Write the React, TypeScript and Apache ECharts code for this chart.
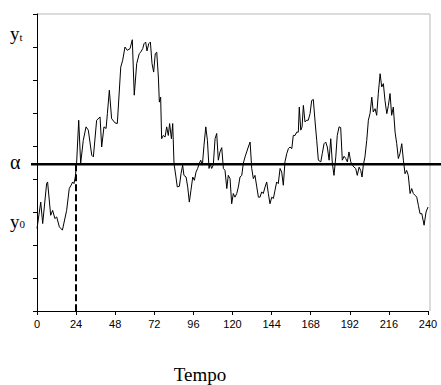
import React, { useEffect, useRef } from "react";
import * as echarts from "echarts";

// Time values (x) and process values (y)
const times = [
  0, 2.3, 3.5, 5.9, 6.5, 8.4, 9.6, 11, 12.1, 13.7, 15.6, 18.2, 19.8, 20.9, 21.9, 22.7, 23.5, 24.3, 25.6, 26.8,
  28.4, 30.1, 31.5, 33.6, 34.6, 36.6, 38.7, 39.7, 41.1, 42.4, 43.2, 44.4, 45.8, 47.9, 49.3, 51.4, 52.6, 54, 55.4, 57.1,
  58.5, 59.7, 61.2, 62.8, 63.7, 64.9, 65.7, 66.7, 67.5, 68.6, 69.6, 70.6, 71.6, 72.6, 73.5, 74.5, 75.1, 75.9, 76.5, 77.5,
  78.6, 79.6, 80.6, 81.4, 82.5, 83.3, 84.1, 85.3, 86.1, 87.4, 88.4, 89.4, 90.2, 91.5, 92.5, 93.5, 94.5, 95.6, 96.6, 97.6,
  98.6, 99.6, 100.5, 101.5, 102.5, 103.6, 104.6, 105.6, 106.2, 107.2, 108.2, 109.3, 110.3, 111.3, 112.3, 113.4, 114.4, 115.4,
  116.5, 117.4, 118.5, 119.5, 120.5, 121.5, 122.6, 123.6, 124.6, 125.7, 126.6, 127.7, 128.7, 129.7, 130.8, 131.8, 132.8, 133.8,
  134.9, 135.9, 136.9, 137.9, 138.9, 140, 141, 142, 143, 144.1, 145.1, 146.1, 147.1, 148.1, 149.2, 150.2, 151.2, 152.2, 153.3,
  154.3, 155.3, 156.4, 157.3, 158.4, 159.4, 160.4, 161, 161.9, 162.7, 163.5, 164.5, 165.6, 166.5, 167.6, 168.6, 169.6, 170.7,
  171.7, 172.7, 174.2, 175.1, 176.2, 177.2, 178.2, 179.3, 180.3, 181.3, 182.3, 183.4, 184.3, 185.4, 186.4, 187.4, 188.5, 189.5,
  190.5, 191.5, 192.6, 193.6, 194.6, 195.6, 196.6, 197.7, 198.7, 199.5, 200.3, 201.3, 202.4, 203.4, 204.4, 205.5, 206.4, 207.5,
  208.5, 209.5, 210.6, 211.6, 212.6, 213.6, 214.7, 215.7, 216.7, 217.7, 218.7, 219.8, 220.8, 221.8, 222.8, 223.9, 224.9, 225.9,
  226.9, 227.9, 229, 230, 231, 232, 233.1, 234.1, 235.1, 236.2, 237.6, 238.8, 240,
];

const values = [
  2.5, 3.3, 2.65, 3.86, 3.91, 2.9, 3.05, 2.8, 2.85, 2.55, 2.45, 3.05, 3.71, 3.81, 3.91, 3.86, 4.06, 4.47, 5.78, 4.47,
  5.17, 5.58, 5.48, 4.72, 4.67, 5.78, 5.88, 4.97, 5.58, 5.53, 5.98, 6.69, 5.83, 5.7, 5.68, 7.39, 7.6, 8.0, 7.9, 7.95,
  8.22, 6.54, 7.5, 7.8, 7.85, 7.95, 8.1, 8.15, 7.88, 8.1, 8.15, 7.5, 7.24, 7.8, 7.84, 7.09, 6.33, 6.48, 5.22, 5.32,
  5.27, 5.58, 5.32, 5.68, 5.22, 5.68, 4.47, 4.06, 3.76, 3.78, 4.16, 4.42, 4.11, 4.06, 3.76, 3.3, 3.66, 4.06, 3.96, 4.21,
  4.32, 4.47, 4.57, 4.42, 5.02, 5.58, 5.17, 4.32, 4.47, 4.32, 4.42, 5.22, 5.38, 4.57, 4.82, 4.95, 4.32, 4.26,
  3.71, 4.11, 4.01, 3.25, 3.56, 3.45, 3.56, 3.76, 4.06, 4.11, 4.47, 4.67, 4.82, 4.97, 5.12, 4.32, 4.01, 4.11,
  3.76, 3.45, 3.45, 3.61, 3.56, 3.76, 3.91, 3.56, 3.25, 3.45, 3.41, 3.66, 3.91, 3.86, 4.32, 4.21, 3.81, 4.52, 4.77,
  4.92, 4.97, 4.92, 5.32, 5.32, 5.42, 5.42, 6.18, 5.48, 5.58, 6.23, 5.73, 5.78, 5.78, 5.98, 6.38, 6.41, 5.73,
  5.17, 4.57, 4.52, 4.77, 5.07, 5.12, 4.97, 4.57, 5.22, 4.47, 4.11, 4.67, 5.32, 5.58, 5.56, 4.57, 4.69, 4.62,
  4.52, 4.82, 4.52, 4.42, 4.36, 4.32, 4.11, 4.36, 4.26, 4.06, 4.42, 4.67, 5.17, 5.78, 5.98, 6.48, 6.03, 6.13,
  5.93, 6.59, 7.19, 6.79, 6.89, 6.38, 5.98, 6.23, 6.59, 5.93, 6.18, 5.42, 5.07, 4.62, 4.77, 5.07, 4.57, 4.16,
  4.26, 4.11, 3.56, 3.71, 3.56, 3.51, 3.45, 3.2, 2.95, 2.95, 2.6, 3.0, 3.15,
];

const xTicks = [0, 24, 48, 72, 96, 120, 144, 168, 192, 216, 240];
const ALPHA = 4.45; // level of the alpha line
const CROSS_TIME = 24; // time of first crossing (dashed line)
const YT_LEVEL = 8.4;
const Y0_LEVEL = 2.72;
const Y_MIN = 0;
const Y_MAX = 9;

const SERIF = "'Liberation Serif', 'DejaVu Serif', serif";
const SANS = "'Liberation Sans', Arial, sans-serif";

export default function App() {
  const ref = useRef<HTMLDivElement>(null);

  useEffect(() => {
    document.body.style.margin = "0";
    if (!ref.current) return;
    const chart = echarts.init(ref.current, null, { renderer: "svg" });
    const data = times.map((t, i) => [t, values[i]]);

    chart.setOption({
      animation: false,
      grid: { left: 37, right: 13, top: 14, bottom: 74 },
      xAxis: {
        type: "value",
        min: xTicks[0],
        max: xTicks[xTicks.length - 1],
        interval: 24,
        axisLine: { show: true, lineStyle: { color: "#000", width: 1 } },
        axisTick: { show: true, length: 4, lineStyle: { color: "#000" } },
        axisLabel: {
          show: true,
          color: "#000",
          fontFamily: SANS,
          fontSize: 11,
          margin: 7,
          showMinLabel: true,
          showMaxLabel: true,
        },
        splitLine: { show: false },
      },
      yAxis: {
        type: "value",
        min: Y_MIN,
        max: Y_MAX,
        interval: 1,
        axisLine: { show: true, lineStyle: { color: "#000", width: 1 } },
        axisTick: { show: true, length: 4, lineStyle: { color: "#000" } },
        axisLabel: { show: false },
        splitLine: { show: false },
      },
      series: [
        {
          type: "line",
          data,
          showSymbol: false,
          symbol: "none",
          silent: true,
          lineStyle: { color: "#000", width: 1 },
          markLine: {
            silent: true,
            symbol: "none",
            label: { show: false },
            lineStyle: { color: "#000", width: 2, type: [7, 3] },
            data: [[{ coord: [CROSS_TIME, ALPHA] }, { coord: [CROSS_TIME, Y_MIN] }]],
          },
        },
      ],
    });

    const p0 = chart.convertToPixel({ gridIndex: 0 }, [xTicks[0], Y_MAX]) as number[];
    const p1 = chart.convertToPixel({ gridIndex: 0 }, [xTicks[xTicks.length - 1], Y_MIN]) as number[];
    const yA = (chart.convertToPixel({ gridIndex: 0 }, [0, ALPHA]) as number[])[1];
    const yT = (chart.convertToPixel({ gridIndex: 0 }, [0, YT_LEVEL]) as number[])[1];
    const y0 = (chart.convertToPixel({ gridIndex: 0 }, [0, Y0_LEVEL]) as number[])[1];
    const rightX = p1[0] + 2;

    chart.setOption({
      graphic: [
        {
          type: "line",
          silent: true,
          shape: { x1: p0[0], y1: p0[1], x2: rightX, y2: p0[1] },
          style: { stroke: "#b8b8b8", lineWidth: 1 },
        },
        {
          type: "line",
          silent: true,
          shape: { x1: rightX, y1: p0[1], x2: rightX, y2: p1[1] },
          style: { stroke: "#b8b8b8", lineWidth: 1 },
        },
        {
          type: "line",
          silent: true,
          z: 10,
          shape: { x1: p0[0] - 6, y1: yA, x2: 441, y2: yA },
          style: { stroke: "#000", lineWidth: 2.5 },
        },
        {
          type: "text",
          silent: true,
          x: 10,
          y: yT,
          style: {
            text: "{a|y}{b|t}",
            verticalAlign: "middle",
            rich: {
              a: { fontFamily: SERIF, fontSize: 19, fill: "#000" },
              b: { fontFamily: SERIF, fontSize: 11, fill: "#000", padding: [6, 0, 0, 0] },
            },
          },
        },
        {
          type: "text",
          silent: true,
          x: 10,
          y: yA - 2,
          style: {
            text: "α",
            verticalAlign: "middle",
            fontFamily: SERIF,
            fontSize: 20,
            fill: "#000",
          },
        },
        {
          type: "text",
          silent: true,
          x: 10,
          y: y0,
          style: {
            text: "{a|y}{b|0}",
            verticalAlign: "middle",
            rich: {
              a: { fontFamily: SERIF, fontSize: 19, fill: "#000" },
              b: { fontFamily: SERIF, fontSize: 11, fill: "#000", padding: [6, 0, 0, 0] },
            },
          },
        },
        {
          type: "text",
          silent: true,
          x: 200,
          y: 374,
          style: {
            text: "Tempo",
            align: "center",
            verticalAlign: "middle",
            fontFamily: SERIF,
            fontSize: 19,
            fill: "#000",
          },
        },
      ],
    });

    return () => chart.dispose();
  }, []);

  return <div ref={ref} style={{ width: 441, height: 385 }} />;
}
